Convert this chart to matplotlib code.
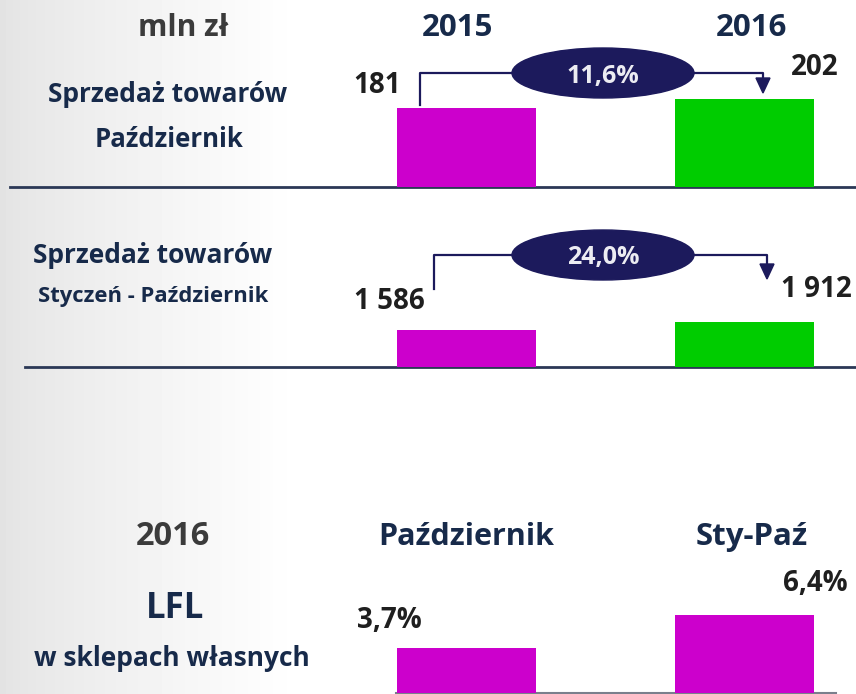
import numpy as np
import matplotlib
matplotlib.use("Agg")
import matplotlib.pyplot as plt
from matplotlib.patches import Ellipse, Polygon

# data
years = ["2015", "2016"]
sales_oct = [181, 202]
sales_oct_labels = ["181", "202"]
sales_ytd = [1586, 1912]
sales_ytd_labels = ["1 586", "1 912"]
change_labels = ["11,6%", "24,0%"]
lfl_periods = ["Październik", "Sty-Paź"]
lfl_values = [3.7, 6.4]
lfl_labels = ["3,7%", "6,4%"]

W, H = 856, 694
NAVY = "#172a4a"
GRAY = "#3b3b3b"
VAL = "#1f1f1f"
OVAL = "#1c1a5c"
MAG = "#cc00cc"
GRN = "#00cc00"
FONT = "Open Sans"

fig = plt.figure(figsize=(W / 100, H / 100), dpi=100)

# background: full figure axes in pixel coords
bg = fig.add_axes([0, 0, 1, 1])
bg.set_xlim(0, W)
bg.set_ylim(H, 0)
bg.axis("off")
grad = np.clip(np.linspace(0, 1, W) / 0.35, 0, 1)
grad = 0.89 + 0.11 * grad ** 0.8
bg.imshow(np.tile(grad, (10, 1)), cmap="gray", vmin=0, vmax=1,
          extent=[0, W, H, 0], aspect="auto", zorder=0)


def txt(x, y, s, size, color=NAVY, ha="center"):
    # y is the text baseline in pixels
    bg.text(x, y, s, fontsize=size, color=color, ha=ha, va="baseline",
            fontweight="bold", family=FONT, zorder=5)


# headers / row labels
txt(183, 36, "mln zł", 21.5, GRAY)
txt(458, 36, years[0], 22.5)
txt(752, 36, years[1], 22.5)
txt(168, 102, "Sprzedaż towarów", 19)
txt(169, 147, "Październik", 18.5)
txt(153, 263, "Sprzedaż towarów", 19)
txt(153, 302, "Styczeń - Październik", 15.8)
txt(173, 545, "2016", 23.5, GRAY)
txt(175, 618, "LFL", 25)
txt(172, 666, "w sklepach własnych", 19)
txt(466, 545, lfl_periods[0], 22)
txt(752, 545, lfl_periods[1], 22.5)

# separator lines
bg.plot([10, W], [187, 187], color="#2b3856", lw=2, zorder=3)
bg.plot([25, W], [367, 367], color="#2b3856", lw=2, zorder=3)
bg.plot([396, 836], [693, 693], color="#7a7f8c", lw=1.5, zorder=3)


def bar_panel(base_px, scale, values, colors):
    # axes whose data scale: 1 unit = scale px vertically, bar centers at 466/744 px
    left = 466 - 0.3 * 278
    width = 1.6 * 278
    height = 200
    ax = fig.add_axes([left / W, 1 - base_px / H, width / W, height / H])
    ax.set_xlim(-0.3, 1.3)
    ax.set_ylim(0, height / scale)
    ax.bar([0, 1], values, width=0.5, color=colors, zorder=2)
    ax.axis("off")
    ax.patch.set_alpha(0)
    return ax


ax1 = bar_panel(187, 79 / 181, sales_oct, [MAG, GRN])
ax2 = bar_panel(367, 37 / 1586, sales_ytd, [MAG, GRN])
ax3 = bar_panel(693, 45 / 3.7, lfl_values, [MAG, MAG])

# value labels (offset to the baseline)
for ax, vals, labs, offs in [
    (ax1, sales_oct, sales_oct_labels, [(-89, 15), (71, 24)]),
    (ax2, sales_ytd, sales_ytd_labels, [(-77, 21), (72, 25)]),
    (ax3, lfl_values, lfl_labels, [(-77, 20), (71, 24)]),
]:
    for i in range(2):
        ax.annotate(labs[i], xy=(i, vals[i]), xytext=offs[i],
                    textcoords="offset pixels", ha="center", va="baseline",
                    fontsize=20, fontweight="bold", color=VAL, family=FONT,
                    annotation_clip=False)


# growth ovals with connectors
def connector(x0, y0, yh, x1, y1, label, base):
    bg.plot([x0, x0, x1, x1], [y0, yh, yh, y1 - 14], color=OVAL, lw=1.6,
            zorder=4)
    bg.add_patch(Polygon([[x1 - 7, y1 - 15], [x1 + 7, y1 - 15], [x1, y1]],
                         closed=True, color=OVAL, zorder=4))
    bg.add_patch(Ellipse((603, yh), 182, 50, color=OVAL, zorder=5))
    bg.text(603, base, label, fontsize=18, color="#ececf2", ha="center",
            va="baseline", fontweight="bold", family=FONT, zorder=6)


connector(420, 105, 73, 763, 93, change_labels[0], 83)
connector(434, 289, 255, 767, 279, change_labels[1], 264)

fig.savefig("out.png", dpi=100)
